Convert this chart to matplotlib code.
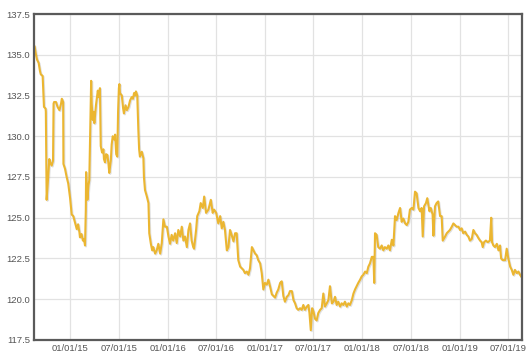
# price history line chart
import numpy as np
import pandas as pd
import matplotlib
matplotlib.use('Agg')
import matplotlib.pyplot as plt
import matplotlib.dates as mdates
import matplotlib.patheffects as pe

# days since 2015-01-01 and values
days = [-134, -129, -125, -119, -114, -111, -104, -101, -99, -93, -92, -89, -86, -83, -79, -76, -70, -65,
        -63, -61, -54, -48, -41, -35, -32, -27, -26, -20, -14, -8, -1, 5, 11, 16, 24, 29, 34, 36, 42, 47,
        51, 55, 58, 59, 64, 68, 71, 75, 78, 80, 84, 87, 90, 96, 103, 106, 111, 114, 119, 124, 126, 130,
        134, 139, 143, 146, 152, 155, 159, 164, 168, 172, 176, 179, 182, 184, 186, 193, 198, 201, 207,
        212, 218, 224, 230, 235, 239, 243, 246, 251, 255, 258, 261, 268, 274, 276, 280, 287, 293, 296,
        302, 307, 311, 318, 324, 330, 337, 343, 349, 355, 362, 368, 374, 380, 386, 393, 399, 405, 412,
        418, 424, 430, 437, 443, 449, 455, 461, 464, 472, 476, 484, 489, 497, 502, 509, 518, 527, 534,
        539, 547, 555, 562, 568, 574, 580, 587, 593, 599, 605, 612, 618, 624, 630, 637, 643, 649, 655,
        662, 668, 674, 681, 687, 693, 699, 705, 712, 718, 724, 730, 737, 743, 749, 756, 762, 768, 774,
        780, 787, 793, 799, 805, 812, 818, 824, 831, 837, 843, 849, 855, 862, 868, 874, 880, 887, 893,
        897, 902, 907, 912, 918, 924, 930, 937, 943, 949, 955, 962, 968, 974, 981, 987, 993, 999, 1005,
        1012, 1018, 1024, 1030, 1037, 1043, 1049, 1056, 1062, 1068, 1074, 1080, 1087, 1093, 1099, 1106,
        1112, 1118, 1124, 1131, 1137, 1140, 1143, 1149, 1155, 1162, 1168, 1174, 1180, 1187, 1193, 1199,
        1206, 1212, 1218, 1224, 1231, 1237, 1243, 1249, 1256, 1262, 1268, 1274, 1281, 1287, 1293, 1299,
        1306, 1312, 1318, 1322, 1327, 1334, 1339, 1347, 1352, 1359, 1362, 1368, 1374, 1380, 1387, 1393,
        1397, 1406, 1412, 1418, 1424, 1431, 1437, 1443, 1449, 1456, 1462, 1468, 1474, 1481, 1487, 1493,
        1499, 1506, 1512, 1518, 1524, 1531, 1537, 1543, 1547, 1552, 1559, 1566, 1574, 1579, 1582, 1587,
        1593, 1600, 1606, 1612, 1616, 1622, 1631, 1637, 1643, 1650, 1656, 1662, 1668, 1675, 1681, 1687,
        1691]
values = [135.5, 135.0, 134.7, 134.5, 134.0, 133.8, 133.7, 132.5, 131.8, 131.7, 131.5, 126.1, 126.8, 127.6,
          128.6, 128.4, 128.2, 128.5, 132.0, 132.1, 132.1, 131.8, 131.6, 132.0, 132.3, 132.1, 128.3, 128.0,
          127.5, 127.1, 126.2, 125.2, 125.1, 124.8, 124.3, 124.6, 124.1, 123.8, 124.0, 123.6, 123.7, 123.3,
          125.5, 127.8, 126.1, 127.0, 127.3, 131.0, 133.4, 132.0, 131.0, 131.5, 130.8, 131.9, 132.8, 132.4,
          132.95, 129.4, 129.0, 129.2, 128.6, 128.4, 128.9, 128.85, 128.3, 127.75, 128.55, 129.5, 130.0,
          129.8, 130.1, 128.9, 128.75, 131.5, 132.95, 133.2, 132.65, 132.5, 131.7, 131.4, 131.9, 131.6,
          131.8, 132.2, 132.4, 132.3, 132.65, 132.5, 132.75, 132.5, 130.4, 129.2, 128.75, 129.05, 128.65,
          127.5, 126.7, 126.3, 125.9, 124.05, 123.4, 123.0, 123.2, 122.8, 123.0, 123.4, 122.8, 123.45,
          124.9, 124.45, 124.45, 123.85, 123.4, 123.95, 123.6, 124.05, 123.45, 124.25, 123.85, 124.45,
          123.6, 123.85, 123.2, 124.25, 124.65, 123.6, 123.2, 123.1, 124.3, 125.1, 125.4, 125.9, 125.6,
          126.3, 125.3, 125.5, 126.1, 125.3, 125.5, 125.3, 124.65, 125.1, 124.35, 124.75, 124.25, 123.0,
          123.2, 124.25, 123.95, 123.55, 124.05, 124.05, 122.4, 122.0, 121.9, 121.8, 121.6, 121.7, 121.5,
          121.9, 123.2, 123.0, 122.8, 122.7, 122.4, 122.2, 121.6, 120.6, 121.0, 120.9, 121.2, 120.8,
          120.3, 120.2, 120.1, 120.4, 120.6, 121.0, 121.1, 120.2, 119.85, 120.15, 120.25, 120.5, 120.5,
          119.95, 119.75, 119.45, 119.35, 119.45, 119.35, 119.65, 119.35, 119.55, 119.65, 119.15, 118.1,
          119.45, 119.25, 118.8, 118.7, 119.15, 119.35, 119.45, 120.35, 119.55, 119.75, 119.95, 120.8,
          119.75, 119.85, 120.15, 119.65, 119.85, 119.55, 119.75, 119.65, 119.85, 119.55, 119.75, 119.65,
          119.95, 120.35, 120.6, 120.8, 121.0, 121.2, 121.4, 121.5, 121.7, 121.6, 122.0, 122.2, 122.6,
          122.6, 121.0, 124.05, 123.95, 123.2, 123.1, 123.3, 123.0, 123.2, 123.1, 123.3, 123.0, 123.65,
          123.3, 125.1, 124.85, 125.3, 125.6, 124.75, 124.95, 124.65, 124.55, 124.75, 125.5, 125.6, 125.5,
          126.6, 126.5, 125.6, 125.4, 125.6, 123.85, 125.7, 125.9, 126.2, 125.4, 125.6, 125.2, 123.9,
          125.7, 125.9, 126.0, 125.1, 125.1, 123.6, 123.85, 124.05, 124.15, 124.25, 124.45, 124.65, 124.55,
          124.45, 124.45, 124.25, 124.35, 124.05, 124.15, 123.95, 123.85, 123.6, 123.7, 124.25, 124.05,
          123.95, 123.75, 123.6, 123.5, 123.2, 123.5, 123.6, 123.5, 123.6, 125.0, 123.5, 123.3, 123.2,
          123.4, 123.0, 123.3, 122.5, 122.4, 122.4, 123.1, 122.5, 122.0, 121.8, 121.5, 121.8, 121.6, 121.7,
          121.5, 121.4]

x_ticks = ['2015-01-01', '2015-07-01', '2016-01-01', '2016-07-01', '2017-01-01',
           '2017-07-01', '2018-01-01', '2018-07-01', '2019-01-01', '2019-07-01']
y_ticks = [117.5, 120.0, 122.5, 125.0, 127.5, 130.0, 132.5, 135.0, 137.5]

plt.rcParams['font.family'] = ['Liberation Sans', 'DejaVu Sans']

start = pd.Timestamp('2015-01-01')
dates = start + pd.to_timedelta(days, unit='D')

fig = plt.figure(figsize=(5.3, 3.61), dpi=100)
ax = fig.add_axes([0.0642, 0.0582, 0.9208, 0.903])

ax.plot(dates, values, color='#ebb631', linewidth=1.5, solid_joinstyle='round',
        path_effects=[pe.SimpleLineShadow(offset=(0.7, -0.7), shadow_color='#999999', alpha=0.3),
                      pe.Normal()])

# axis formatting
ax.set_xlim(start - pd.Timedelta(days=136.3), start + pd.Timedelta(days=1694.6))
ax.set_ylim(117.5, 137.5)
ax.set_xticks(pd.to_datetime(x_ticks))
ax.xaxis.set_major_formatter(mdates.DateFormatter('%m/%d/%y'))
ax.set_yticks(y_ticks)
ax.set_yticklabels(['%.1f' % v for v in y_ticks])
ax.tick_params(length=0, labelsize=6.8, colors='#555555', pad=3)
ax.grid(True, color='#e2e2e2', linewidth=0.9)
ax.set_axisbelow(True)
for s in ax.spines.values():
    s.set_color('#5a5a5a')
    s.set_linewidth(1.6)

fig.savefig('out.png', dpi=100)
